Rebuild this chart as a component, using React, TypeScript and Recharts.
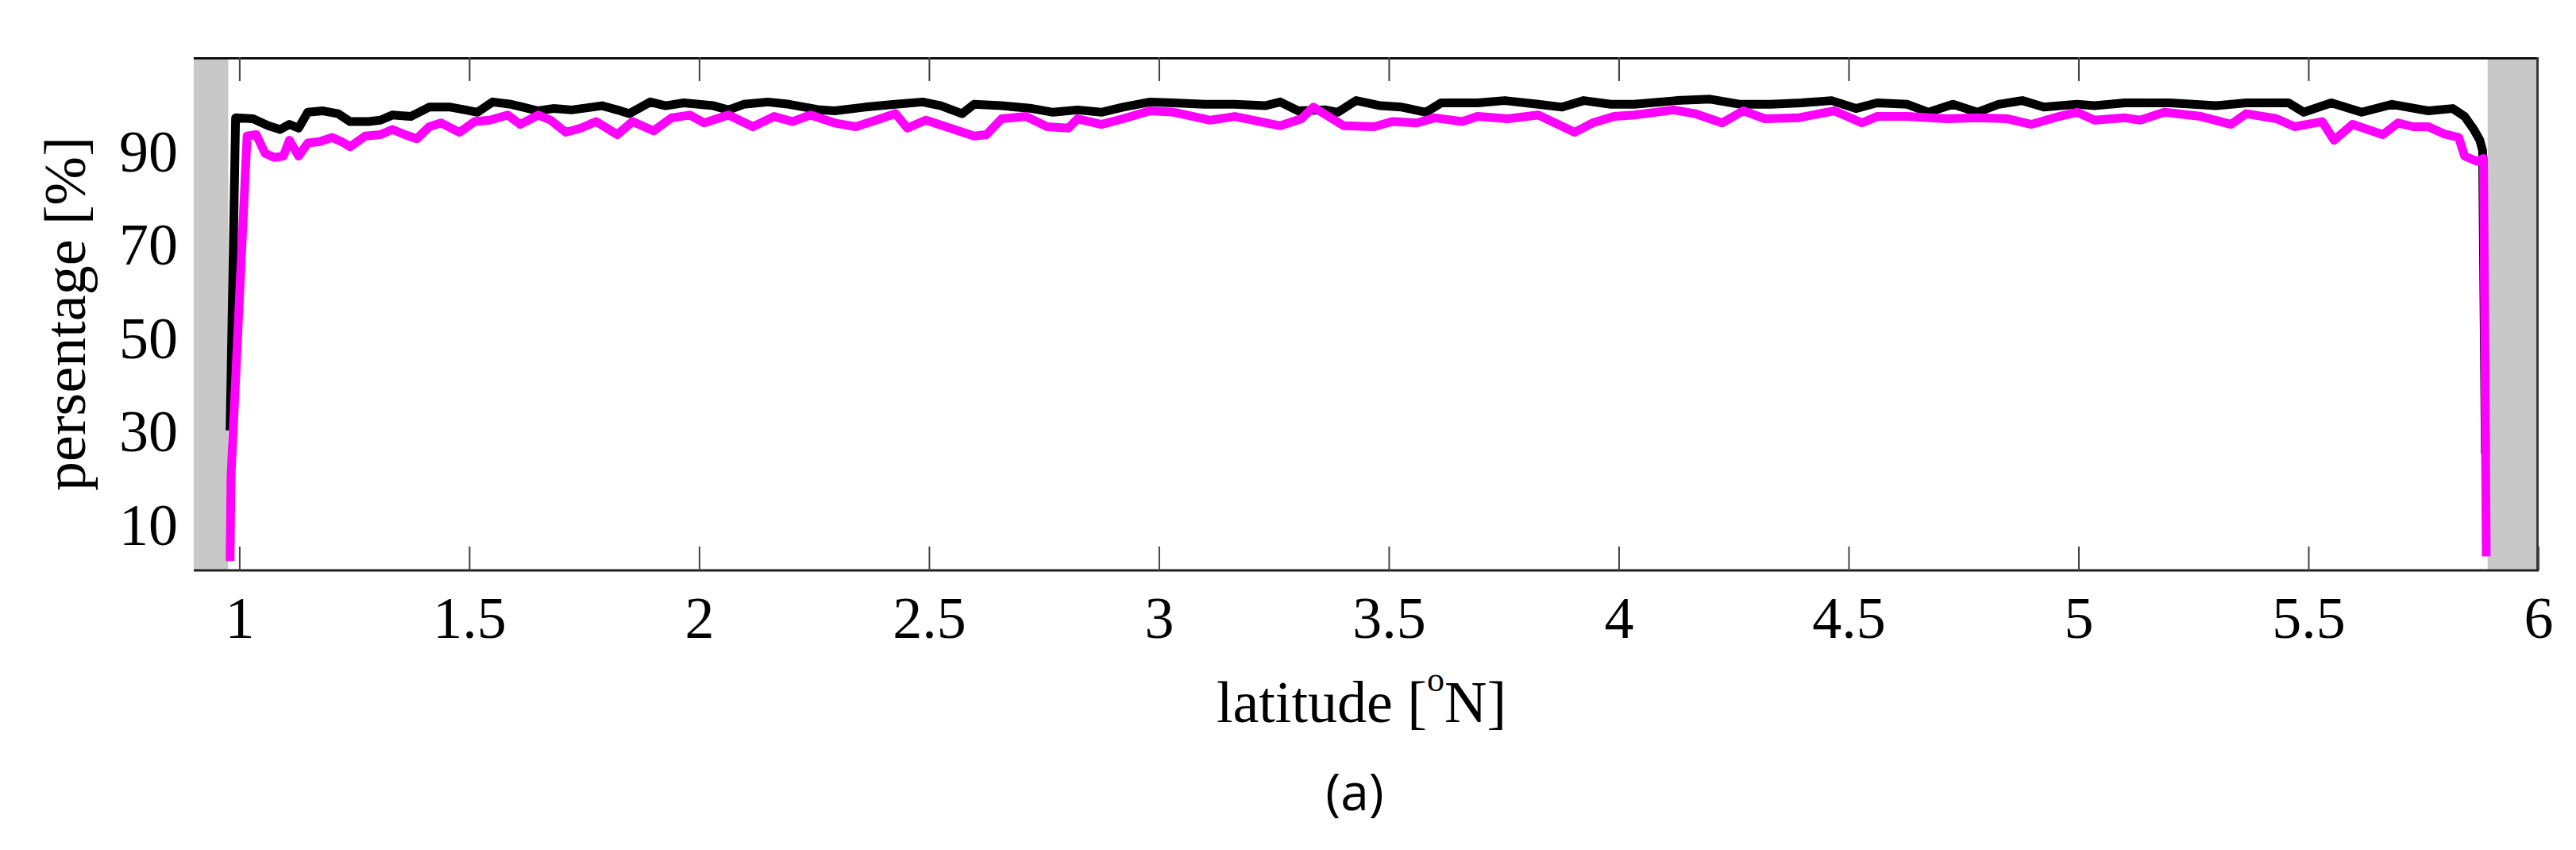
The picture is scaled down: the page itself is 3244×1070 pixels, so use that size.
import { LineChart, Line, XAxis, YAxis, ReferenceArea } from 'recharts';

// black curve
const latBlack = [
  0.979, 0.991, 1.029, 1.062, 1.088, 1.108, 1.128, 1.148, 1.181, 1.214, 1.24, 1.28, 1.306, 1.332, 1.372, 1.412,
  1.458, 1.491, 1.517, 1.55, 1.59, 1.616, 1.649, 1.682, 1.722, 1.788, 1.821, 1.847, 1.893, 1.926, 1.966,
  2.03, 2.063, 2.096, 2.149, 2.195, 2.261, 2.294, 2.36, 2.426, 2.485, 2.525, 2.571, 2.597, 2.657, 2.723,
  2.769, 2.822, 2.874, 2.921, 2.98,
  3.032, 3.098, 3.164, 3.23, 3.263, 3.302, 3.362, 3.388, 3.428, 3.481, 3.527, 3.58, 3.613, 3.692, 3.751,
  3.824, 3.876, 3.923, 3.982,
  4.033, 4.125, 4.198, 4.264, 4.33, 4.396, 4.462, 4.515, 4.561, 4.627, 4.673, 4.726, 4.779, 4.825, 4.877,
  4.924, 4.996,
  5.034, 5.1, 5.199, 5.298, 5.364, 5.456, 5.489, 5.549, 5.615, 5.681, 5.76, 5.813, 5.839, 5.859, 5.872,
  5.878, 5.884,
];
const pctBlack = [
  30, 97.0, 96.8, 95.3, 94.5, 95.6, 94.8, 98.2, 98.5, 97.9, 96.2, 96.2, 96.5, 97.6, 97.3, 99.3,
  99.3, 98.7, 98.2, 100.4, 99.9, 99.3, 98.5, 99.0, 98.7, 99.6, 98.7, 97.9, 100.4, 99.6, 100.2,
  99.6, 98.7, 99.9, 100.4, 99.9, 98.7, 98.5, 99.3, 99.9, 100.4, 99.6, 97.9, 99.9, 99.6, 99.0,
  98.2, 98.7, 98.2, 99.3, 100.4,
  100.2, 99.9, 99.9, 99.6, 100.4, 98.5, 98.7, 98.2, 100.7, 99.6, 99.3, 98.2, 100.2, 100.2, 100.7,
  99.9, 99.3, 100.7, 99.9,
  99.9, 100.7, 101.0, 99.9, 99.9, 100.2, 100.7, 99.0, 100.2, 99.9, 98.2, 99.9, 98.2, 99.9, 100.7,
  99.3, 99.9,
  99.6, 100.2, 100.2, 99.6, 100.2, 100.2, 98.2, 100.2, 98.2, 99.9, 98.5, 99.0, 97.3, 94.5, 92.2,
  90, 25,
];

// magenta curve
const latMagenta = [
  0.979, 0.981, 1.016, 1.036, 1.055, 1.075, 1.095, 1.108, 1.128, 1.148, 1.174, 1.201, 1.227, 1.24, 1.273,
  1.306, 1.332, 1.359, 1.385, 1.412, 1.438, 1.478, 1.511, 1.544, 1.583, 1.61, 1.649, 1.676, 1.709, 1.742,
  1.775, 1.821, 1.854, 1.9, 1.939, 1.979,
  2.01, 2.063, 2.116, 2.162, 2.202, 2.241, 2.294, 2.34, 2.393, 2.426, 2.452, 2.492, 2.545, 2.597, 2.624,
  2.657, 2.71, 2.756, 2.802, 2.822, 2.874, 2.921, 2.98,
  3.032, 3.111, 3.164, 3.263, 3.309, 3.335, 3.401, 3.467, 3.507, 3.56, 3.599, 3.659, 3.692, 3.758, 3.824,
  3.903, 3.942, 3.989,
  4.033, 4.119, 4.165, 4.224, 4.27, 4.317, 4.389, 4.468, 4.528, 4.561, 4.627, 4.713, 4.779, 4.845, 4.897,
  4.957, 4.996,
  5.034, 5.1, 5.133, 5.186, 5.265, 5.331, 5.364, 5.43, 5.469, 5.529, 5.555, 5.595, 5.661, 5.694, 5.727,
  5.76, 5.793, 5.826, 5.839, 5.865, 5.88, 5.886,
];
const pctMagenta = [
  2, 20, 93.1, 93.4, 89.4, 88.5, 88.8, 92.2, 88.8, 91.6, 91.9, 92.8, 91.6, 90.8, 93.1,
  93.4, 94.5, 93.4, 92.5, 95.1, 95.9, 93.9, 96.2, 96.5, 97.6, 95.6, 97.6, 96.5, 93.9, 94.8,
  96.2, 93.4, 96.2, 94.2, 97.0, 97.6,
  95.9, 97.6, 95.1, 97.3, 96.2, 97.6, 95.9, 95.1, 96.8, 97.9, 94.8, 96.5, 94.8, 93.1, 93.4,
  96.8, 97.3, 95.1, 94.8, 96.8, 95.6, 96.8, 98.5,
  98.2, 96.5, 97.3, 95.3, 96.8, 99.3, 95.3, 95.1, 96.2, 95.9, 97.0, 96.2, 97.3, 96.8, 97.6,
  93.9, 95.9, 97.3,
  97.6, 98.7, 97.9, 95.9, 98.5, 96.8, 97.0, 98.5, 95.9, 97.3, 97.3, 96.8, 97.0, 96.8, 95.6,
  97.3, 98.2,
  96.5, 97.0, 96.5, 98.2, 97.3, 95.6, 97.9, 96.8, 95.1, 96.2, 92.2, 95.6, 93.4, 95.9, 95.1,
  95.1, 93.6, 92.8, 88.8, 87.7, 88.3, 3,
];

const latTicks = [1, 1.5, 2, 2.5, 3, 3.5, 4, 4.5, 5, 5.5, 6];
const pctTicks = [10, 30, 50, 70, 90];
// shaded (no data) zones along latitude
const maskedZones = [
  [0.9, 0.975],
  [5.889, 6],
];

const X_MIN = 0.9;
const X_MAX = 6;
const Y_MAX = 110;
// frame pieces, in axis units (~2-3 px at this size)
const FRAME_H = 0.45;
const TICK_HALF_W = 0.0018;
const TICK_LEN = 5.1;
const RIGHT_W = 0.005;

const blackData = latBlack.map((lat, i) => ({ lat, pct: pctBlack[i] }));
const magentaData = latMagenta.map((lat, i) => ({ lat, pct: pctMagenta[i] }));

const SERIF = '"Liberation Serif", "Times New Roman", serif';

const XTitle = (props: any) => {
  const { viewBox } = props;
  const cx = viewBox.x + viewBox.width / 2 - 6;
  return (
    <text x={cx} y={909} textAnchor="middle" fontFamily={SERIF} fontSize={74} fill="#000">
      <tspan>latitude [</tspan>
      <tspan fontSize={44} dy={-39}>o</tspan>
      <tspan dy={39}>N]</tspan>
    </text>
  );
};

const YTitle = (props: any) => {
  const { viewBox } = props;
  const cy = viewBox.y + viewBox.height / 2;
  return (
    <text
      x={107}
      y={cy}
      transform={`rotate(-90 107 ${cy})`}
      textAnchor="middle"
      fontFamily={SERIF}
      fontSize={74}
      fill="#000"
    >
      persentage [%]
    </text>
  );
};

const App = () => {
  return (
    <div style={{ position: 'absolute', left: 0, top: 0, width: 3244, height: 1070, background: '#fff' }}>
      <LineChart width={3244} height={1070} margin={{ top: 72, right: 47, bottom: 0, left: 0 }}>
        {maskedZones.map(([a, b]) => (
          <ReferenceArea key={a} x1={a} x2={b} y1={0} y2={Y_MAX} fill="#c8c8c8" fillOpacity={1} stroke="none" />
        ))}
        {/* top frame edge */}
        <ReferenceArea
          x1={X_MIN}
          x2={X_MAX}
          y1={Y_MAX - FRAME_H}
          y2={Y_MAX}
          fill="#000"
          fillOpacity={1}
          stroke="none"
        />
        {/* right frame edge */}
        <ReferenceArea
          x1={X_MAX - RIGHT_W}
          x2={X_MAX}
          y1={0}
          y2={Y_MAX}
          fill="#333"
          fillOpacity={1}
          stroke="none"
        />
        {/* inward ticks along the top edge */}
        {latTicks.slice(0, -1).map((t) => (
          <ReferenceArea
            key={`top-${t}`}
            x1={t - TICK_HALF_W}
            x2={t + TICK_HALF_W}
            y1={Y_MAX - TICK_LEN}
            y2={Y_MAX}
            fill="#444"
            fillOpacity={1}
            stroke="none"
          />
        ))}
        <XAxis
          dataKey="lat"
          type="number"
          domain={[X_MIN, X_MAX]}
          allowDataOverflow
          ticks={latTicks}
          interval={0}
          height={352}
          axisLine={{ stroke: '#222', strokeWidth: 3 }}
          tickLine={{ stroke: '#444', strokeWidth: 2 }}
          tickSize={-30}
          tickMargin={62}
          tick={{ fill: '#000', fontSize: 74, fontFamily: SERIF }}
          label={{ content: XTitle }}
        />
        <YAxis
          type="number"
          domain={[0, Y_MAX]}
          allowDataOverflow
          ticks={pctTicks}
          interval={0}
          width={244}
          axisLine={false}
          tickLine={false}
          tickSize={0}
          tickMargin={20}
          tick={{ fill: '#000', fontSize: 74, fontFamily: SERIF }}
          label={{ content: YTitle }}
        />
        <Line
          data={blackData}
          dataKey="pct"
          type="linear"
          stroke="#000000"
          strokeWidth={11}
          strokeLinejoin="round"
          dot={false}
          isAnimationActive={false}
        />
        <Line
          data={magentaData}
          dataKey="pct"
          type="linear"
          stroke="#ff00ff"
          strokeWidth={11}
          strokeLinejoin="round"
          dot={false}
          isAnimationActive={false}
        />
      </LineChart>
      <div
        style={{
          position: 'absolute',
          left: 1706,
          top: 1028,
          transform: 'translate(-50%, -100%)',
          fontFamily: '"Open Sans", "Noto Sans", sans-serif',
          fontSize: 64,
          lineHeight: 1,
          color: '#000',
          whiteSpace: 'nowrap',
        }}
      >
        (a)
      </div>
    </div>
  );
};

export default App;
